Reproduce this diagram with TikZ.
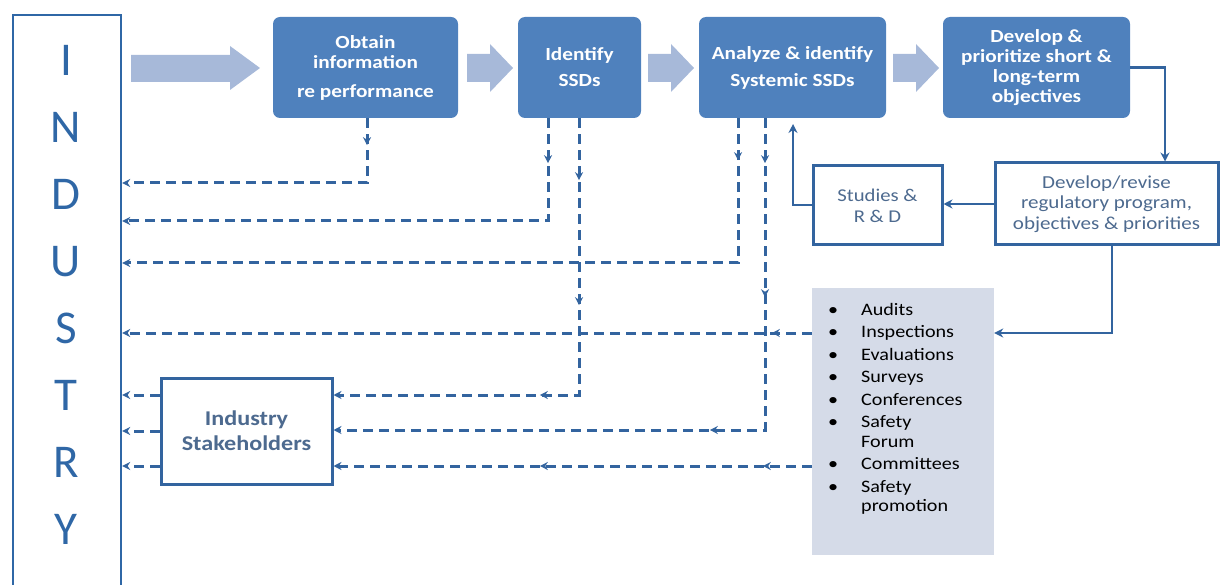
\documentclass[tikz,border=0pt]{standalone}
\usepackage{fontspec}
\setmainfont{Carlito}[FakeStretch=1.15]
\newfontfamily\indfont{Carlito}
\usetikzlibrary{arrows.meta,decorations.markings}
\definecolor{boxblue}{HTML}{4F81BD}
\definecolor{lineblue}{HTML}{33649F}
\definecolor{arrowgrey}{HTML}{A7B9D9}
\definecolor{listgrey}{HTML}{D5DBE8}
\definecolor{textblue}{HTML}{4D6A8F}
\definecolor{indblue}{HTML}{2F67A6}
\tikzset{
  dtip/.tip={Stealth[length=8pt,width=8pt]},
  bluebox/.style={fill=boxblue, rounded corners=7pt, text=white, font=\bfseries\fontsize{18.5}{20}\selectfont, align=center, inner sep=0pt, minimum height=101pt},
  outbox/.style={draw=lineblue, line width=3pt, fill=white, align=center, inner sep=0pt, text=textblue},
  dline/.style={draw=lineblue, line width=3pt, dash pattern=on 10pt off 6pt, -{dtip}},
  mk/.style={postaction={decorate,decoration={markings,mark=at position #1pt with {\pgfsetdash{}{0pt}\arrow{dtip}}}}},
  sline/.style={draw=lineblue, line width=2.2pt, -{Stealth[length=9pt,width=9pt]}},
  bigarrow/.style={fill=arrowgrey},
  letterstyle/.style={font=\indfont\fontsize{47}{47}\selectfont, text=indblue, inner sep=0pt},
}
\begin{document}
\begin{tikzpicture}[x=1pt,y=-1pt]
\useasboundingbox (0,0) rectangle (1220,585);
\clip (0,0) rectangle (1220,585);
% INDUSTRY column
\node[draw=indblue, line width=2.2pt, minimum width=108pt, minimum height=600pt, inner sep=0pt, anchor=north west] (ind) at (12,14) {};
\foreach \l [count=\i] in {I,N,D,U,S,T,R,Y}
  \node[letterstyle] (L\i) at (66,{60+67.1*(\i-1)}) {\l};
% big arrows
\fill[bigarrow] (131,55) -- (230,55) -- (230,46) -- (260,68) -- (230,90) -- (230,82) -- (131,82) -- cycle;
\foreach \s in {0,181,426}
  \fill[bigarrow] (467+\s,54) -- (490+\s,54) -- (490+\s,44) -- (513+\s,68) -- (490+\s,92) -- (490+\s,82) -- (467+\s,82) -- cycle;
% process boxes
\node[bluebox, minimum width=185pt] (b1) at (365.5,67.5) {Obtain\\information\\[9pt]re performance};
\node[bluebox, minimum width=123pt] (b2) at (579.5,67.5) {Identify\\[6pt]SSDs};
\node[bluebox, minimum width=187pt] (b3) at (792.5,67.5) {Analyze \& identify\\[7pt]Systemic SSDs};
\node[bluebox, minimum width=187pt] (b4) at (1036.5,67.5) {Develop \&\\prioritize short \&\\long-term\\objectives};
\node[outbox, minimum width=223pt, minimum height=82pt, font=\fontsize{18.3}{20.5}\selectfont] (b5) at (1106.5,204) {Develop/revise\\regulatory program,\\objectives \& priorities};
\node[outbox, minimum width=129pt, minimum height=79pt, font=\fontsize{18}{21}\selectfont] (b6) at (877.5,205.5) {Studies \&\\R \& D};
\node[outbox, minimum width=171pt, minimum height=106pt, font=\bfseries\fontsize{21}{25}\selectfont] (stake) at (246.5,431) {Industry\\Stakeholders};
% list box
\node[fill=listgrey, minimum width=182pt, minimum height=267pt, inner sep=0pt] (list) at (903,421.5) {};
\node[anchor=base west, inner sep=0pt, font=\fontsize{17.5}{19.5}\selectfont] (items) at (828,315) {%
\begin{tabular}[t]{@{}p{33pt}@{}l@{}}
\textbullet & Audits\\[3pt]
\textbullet & Inspections\\[3pt]
\textbullet & Evaluations\\[3pt]
\textbullet & Surveys\\[3pt]
\textbullet & Conferences\\[3pt]
\textbullet & Safety\\
 & Forum\\[3pt]
\textbullet & Committees\\[3pt]
\textbullet & Safety\\
 & promotion
\end{tabular}};
% solid connectors
\coordinate (up) at (793,124);
\draw[sline] (b4.east) -- (b4.east -| 1165,0) -- (b5.north -| 1165,0);
\draw[sline] (b5.west) -- (b5.west -| b6.east);
\draw[sline] (b6.west |- 0,205) -- (793,205) -- (up);
\draw[sline] (b5.south -| 1112,0) -- (1112,333) -- (list.east |- 0,333);
% dashed connectors
\draw[dline, mk=27] (b1.south -| 367,0) -- (367,183) -- (ind.east |- 0,183);
\draw[dline, mk=45] (b2.south -| 548,0) -- (548,221) -- (ind.east |- 0,221);
\draw[dline, mk=62, mk=187, mk=316] (b2.south -| 579,0) -- (579,395) -- (stake.east |- 0,395);
\draw[dline, mk=42] (b3.south -| 738,0) -- (738,263) -- (ind.east |- 0,263);
\draw[dline, mk=45, mk=179, mk=367] (b3.south -| 765,0) -- (765,430) -- (stake.east |- 0,430);
\draw[dline, mk=40] (list.west |- 0,333) -- (ind.east |- 0,333);
\draw[dline, mk=49, mk=272] (list.west |- 0,466) -- (stake.east |- 0,466);
\foreach \y in {395,431,466}
  \draw[dline] (stake.west |- 0,\y) -- (ind.east |- 0,\y);
\end{tikzpicture}
\end{document}
